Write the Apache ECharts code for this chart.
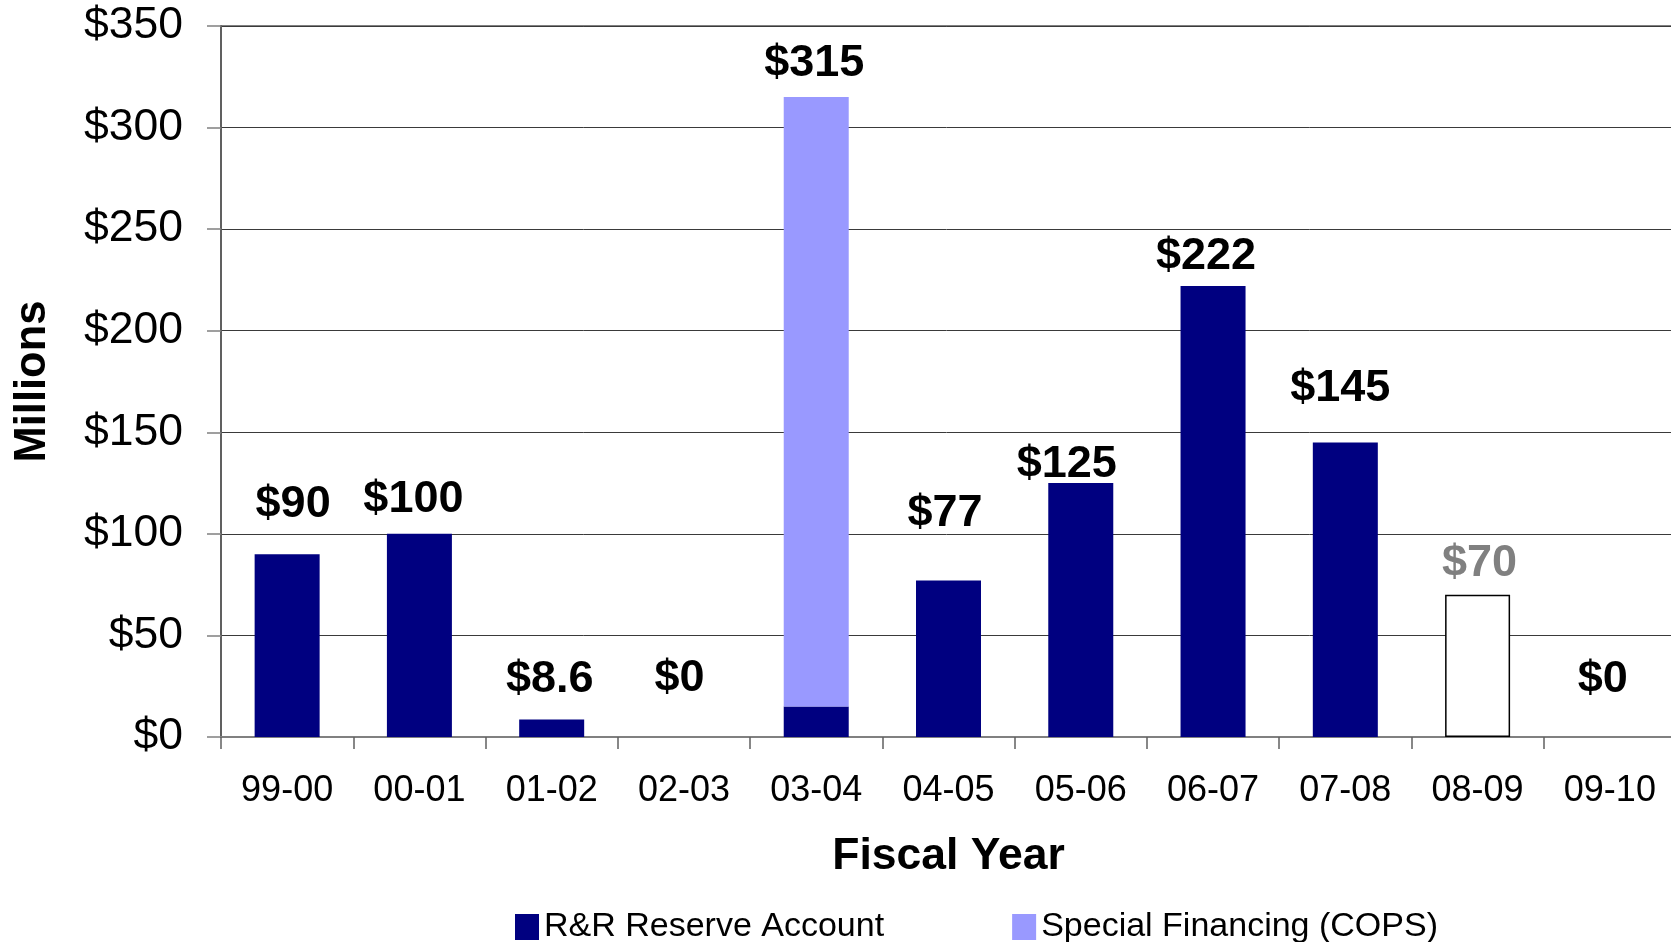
<!DOCTYPE html>
<html>
<head>
<meta charset="utf-8">
<style>
html,body{margin:0;padding:0;background:#fff;}
#chart{width:1671px;height:942px;}
</style>
<script src="https://cdn.jsdelivr.net/npm/echarts@6/dist/echarts.min.js"></script>
</head>
<body>
<div id="chart"></div>
<script>
// ---- data ----
var categories = ['99-00','00-01','01-02','02-03','03-04','04-05','05-06','06-07','07-08','08-09','09-10'];
var rrReserve = [90, 100, 8.6, 0, 15, 77, 125, 222, 145, 70, 0];
var specialFinancing = [null, null, null, null, 300, null, null, null, null, null, null];
var projectedIndex = 9; // 08-09 shown as outlined (projected) bar
var yTicks = [0, 50, 100, 150, 200, 250, 300, 350];

// label placement tweaks (pixels, relative to bar top)
var labelDx = [6, -6, -2, -4.5, -2, -3.5, -14, -7, -5, 2, -7];
var labelDy = [-50, -34, -40, -58, -34, -66.6, -18, -29, -54, -30.8, -57];

var FONT = "'Liberation Sans', Arial, sans-serif";

function totalAt(i){ return rrReserve[i] + (specialFinancing[i] || 0); }
function labelFor(i){
  return {
    show: true,
    position: 'top',
    distance: 0,
    verticalAlign: 'middle',
    align: 'center',
    offset: [labelDx[i], labelDy[i]],
    formatter: '$' + totalAt(i),
    fontFamily: FONT,
    fontWeight: 'bold',
    fontSize: 45,
    color: i === projectedIndex ? '#808080' : '#000'
  };
}

var rrData = rrReserve.map(function(v, i){
  var d = { value: v };
  if (specialFinancing[i] == null) d.label = labelFor(i);
  else d.label = { show: false };
  if (i === projectedIndex) d.itemStyle = { color: '#ffffff', borderColor: '#000000', borderWidth: 1.5 };
  return d;
});
var sfData = specialFinancing.map(function(v, i){
  if (v == null) return '-';
  return { value: v, label: labelFor(i) };
});

var chart = echarts.init(document.getElementById('chart'), null, {renderer: 'canvas'});
chart.setOption({
  backgroundColor: '#ffffff',
  animation: false,
  grid: { left: 221, top: 26, bottom: 205, right: -5, containLabel: false, outerBoundsMode: 'none',
          show: true, borderColor: '#808080', borderWidth: 2, backgroundColor: 'transparent' },
  legend: {
    left: 510, top: 905,
    itemWidth: 24, itemHeight: 26, itemGap: 128,
    icon: 'rect',
    textStyle: { fontFamily: FONT, fontSize: 34, color: '#000' },
    data: ['R&R Reserve Account', 'Special Financing (COPS)']
  },
  xAxis: {
    type: 'category',
    data: categories,
    name: 'Fiscal Year',
    nameLocation: 'middle',
    nameGap: 97,
    nameTextStyle: { fontFamily: FONT, fontWeight: 'bold', fontSize: 44.5, color: '#000' },
    axisLine: { show: true, lineStyle: { color: '#808080', width: 2 } },
    axisTick: { show: true, length: 12, interval: 0, lineStyle: { color: '#606060', width: 1.5 } },
    axisLabel: { interval: 0, margin: 36, fontFamily: FONT, fontSize: 36, color: '#000' }
  },
  yAxis: {
    type: 'value',
    min: yTicks[0], max: yTicks[yTicks.length - 1], interval: 50,
    name: 'Millions',
    nameLocation: 'middle',
    nameGap: 166,
    nameTextStyle: { fontFamily: FONT, fontWeight: 'bold', fontSize: 43.5, color: '#000' },
    axisLine: { show: true, lineStyle: { color: '#606060', width: 2 } },
    axisTick: { show: true, length: 14, lineStyle: { color: '#808080', width: 1.5 } },
    axisLabel: { margin: 38, fontFamily: FONT, fontSize: 44.5, color: '#000', formatter: function(v){ return '$' + v; } },
    splitLine: { show: true, lineStyle: { color: '#3a3a3a', width: 1 } }
  },
  series: [
    {
      name: 'R&R Reserve Account',
      type: 'bar',
      stack: 'total',
      barWidth: 65,
      itemStyle: { color: '#000080' },
      data: rrData
    },
    {
      name: 'Special Financing (COPS)',
      type: 'bar',
      stack: 'total',
      barWidth: 65,
      itemStyle: { color: '#9999ff' },
      data: sfData
    }
  ]
});
</script>
</body>
</html>
